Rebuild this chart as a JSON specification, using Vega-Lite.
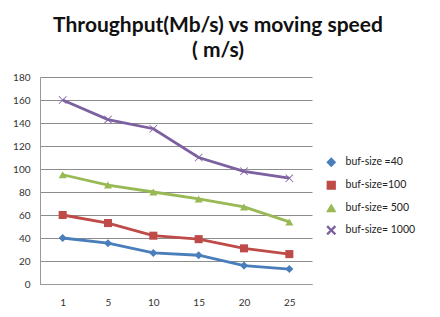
{
  "$schema": "https://vega.github.io/schema/vega-lite/v6.json",
  "autosize": "none",
  "width": 272,
  "height": 207,
  "padding": {"left": 40, "top": 77, "right": 128, "bottom": 33},
  "background": "white",
  "title": {
    "text": ["Throughput(Mb/s) vs moving speed", "( m/s)"],
    "font": "Lato",
    "fontSize": 21,
    "fontWeight": "bold",
    "color": "#111111",
    "anchor": "middle",
    "dx": 42,
    "offset": 11,
    "lineHeight": 25
  },
  "data": {
    "values": [
      {"speed": "1", "series": "buf-size =40", "tp": 40},
      {"speed": "5", "series": "buf-size =40", "tp": 35.5},
      {"speed": "10", "series": "buf-size =40", "tp": 27},
      {"speed": "15", "series": "buf-size =40", "tp": 25},
      {"speed": "20", "series": "buf-size =40", "tp": 16},
      {"speed": "25", "series": "buf-size =40", "tp": 13},
      {"speed": "1", "series": "buf-size=100", "tp": 60},
      {"speed": "5", "series": "buf-size=100", "tp": 53},
      {"speed": "10", "series": "buf-size=100", "tp": 42},
      {"speed": "15", "series": "buf-size=100", "tp": 39},
      {"speed": "20", "series": "buf-size=100", "tp": 31},
      {"speed": "25", "series": "buf-size=100", "tp": 26},
      {"speed": "1", "series": "buf-size= 500", "tp": 95},
      {"speed": "5", "series": "buf-size= 500", "tp": 86},
      {"speed": "10", "series": "buf-size= 500", "tp": 80},
      {"speed": "15", "series": "buf-size= 500", "tp": 74},
      {"speed": "20", "series": "buf-size= 500", "tp": 67},
      {"speed": "25", "series": "buf-size= 500", "tp": 54},
      {"speed": "1", "series": "buf-size= 1000", "tp": 160},
      {"speed": "5", "series": "buf-size= 1000", "tp": 143},
      {"speed": "10", "series": "buf-size= 1000", "tp": 135},
      {"speed": "15", "series": "buf-size= 1000", "tp": 110},
      {"speed": "20", "series": "buf-size= 1000", "tp": 98},
      {"speed": "25", "series": "buf-size= 1000", "tp": 92}
    ]
  },
  "encoding": {
    "x": {
      "field": "speed",
      "type": "ordinal",
      "sort": ["1", "5", "10", "15", "20", "25"],
      "scale": {"type": "point", "padding": 0.5},
      "axis": {
        "title": null,
        "labelAngle": 0,
        "labelFont": "Lato",
        "labelFontSize": 10,
        "labelColor": "#333333",
        "labelPadding": 13,
        "ticks": false,
        "domainColor": "#999999",
        "grid": false
      }
    },
    "y": {
      "field": "tp",
      "type": "quantitative",
      "scale": {"domain": [0, 180]},
      "axis": {
        "title": null,
        "values": [0, 20, 40, 60, 80, 100, 120, 140, 160, 180],
        "labelFont": "Lato",
        "labelFontSize": 10,
        "labelColor": "#333333",
        "labelPadding": 10,
        "ticks": false,
        "domainColor": "#999999",
        "gridColor": "#8c8c8c",
        "gridWidth": 1
      }
    },
    "color": {
      "field": "series",
      "type": "nominal",
      "scale": {
        "domain": ["buf-size =40", "buf-size=100", "buf-size= 500", "buf-size= 1000"],
        "range": ["#4A7EBB", "#BE4B48", "#98B954", "#7D60A0"]
      },
      "legend": {
        "title": null,
        "orient": "none",
        "legendX": 286,
        "legendY": 80,
        "labelFont": "Lato",
        "labelFontSize": 10.5,
        "labelColor": "#222222",
        "labelOffset": 9,
        "rowPadding": 8,
        "symbolSize": 60
      }
    }
  },
  "layer": [
    {
      "mark": {"type": "line", "strokeWidth": 2.8}
    },
    {
      "mark": {"type": "point", "filled": true, "opacity": 1, "size": 65},
      "encoding": {
        "shape": {
          "field": "series",
          "type": "nominal",
          "scale": {
            "domain": ["buf-size =40", "buf-size=100", "buf-size= 500", "buf-size= 1000"],
            "range": ["diamond", "square", "triangle-up", "M-1,-0.85L-0.85,-1L0,-0.15L0.85,-1L1,-0.85L0.15,0L1,0.85L0.85,1L0,0.15L-0.85,1L-1,0.85L-0.15,0Z"]
          },
          "legend": {
            "title": null,
            "orient": "none",
            "legendX": 286,
            "legendY": 80,
            "labelFont": "Lato",
            "labelFontSize": 10.5,
            "labelColor": "#222222",
            "labelOffset": 9,
            "rowPadding": 8,
            "symbolSize": 60
          }
        }
      }
    }
  ],
  "config": {
    "view": {"stroke": null}
  }
}
